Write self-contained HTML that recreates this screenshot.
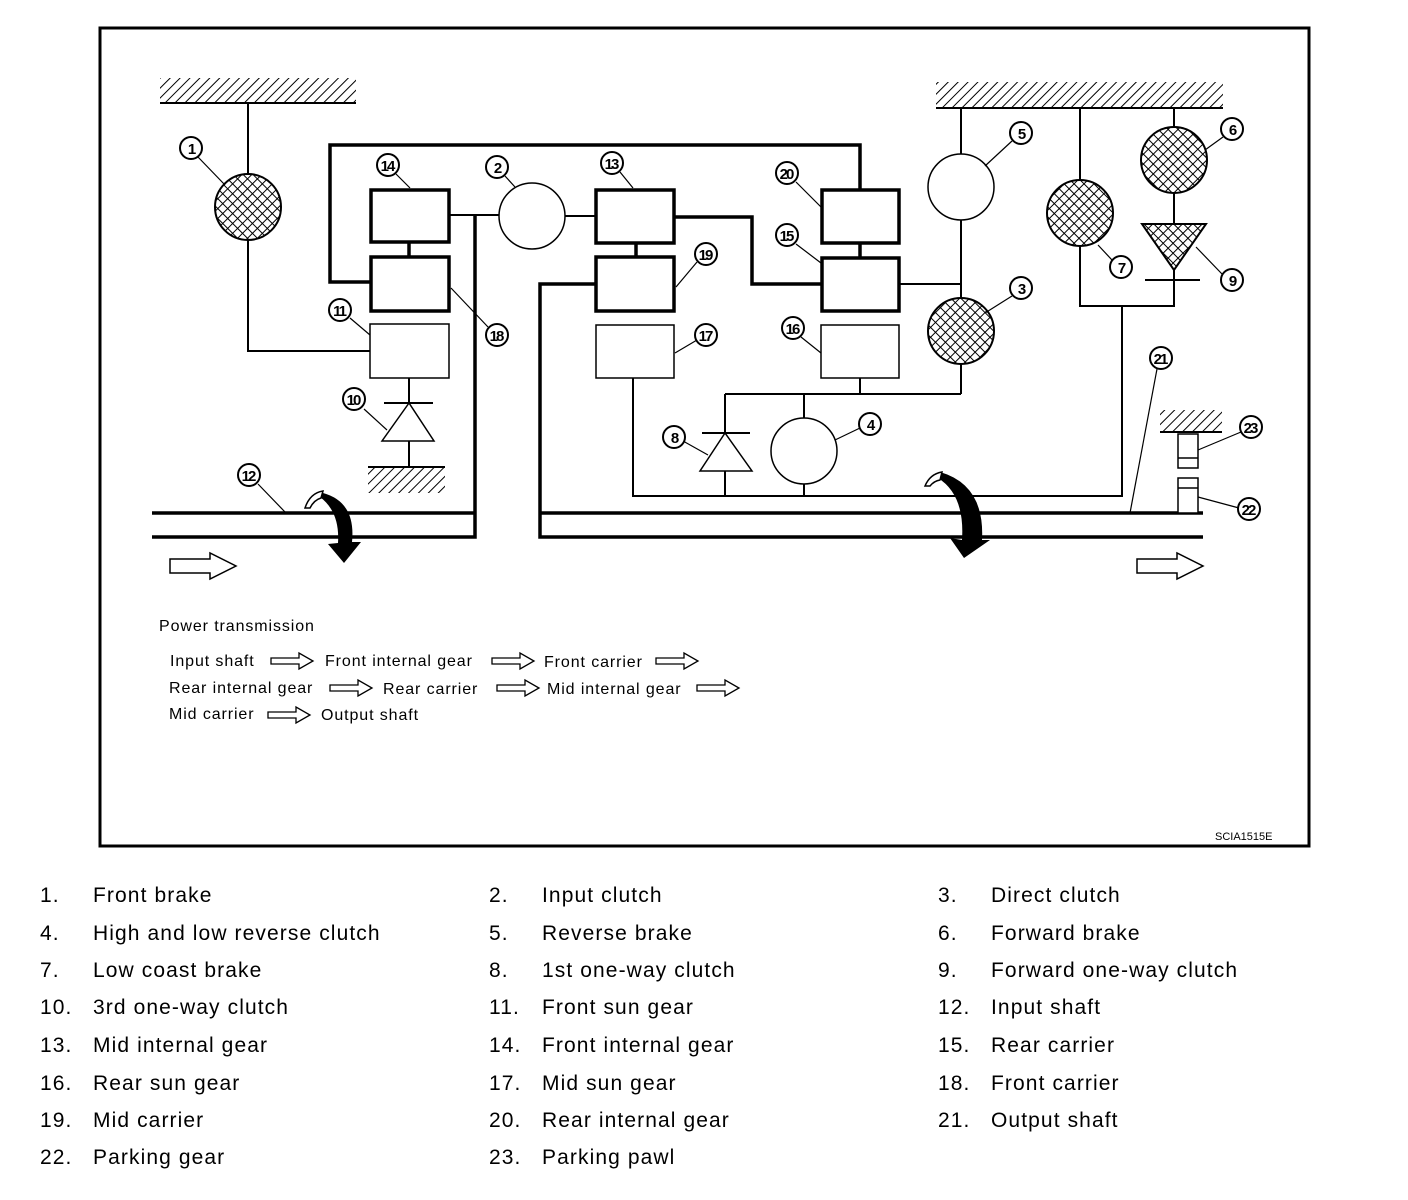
<!DOCTYPE html>
<html><head><meta charset="utf-8"><style>
html,body{margin:0;padding:0;background:#fff;}
svg{display:block;}
.t{font-family:"Liberation Sans",Arial,sans-serif;}
</style></head><body>
<svg width="1408" height="1200" viewBox="0 0 1408 1200" xmlns="http://www.w3.org/2000/svg">
<defs>
<pattern id="hat" patternUnits="userSpaceOnUse" width="7" height="7" patternTransform="rotate(45)">
<rect width="7" height="7" fill="#fff"/><line x1="0" y1="0" x2="0" y2="7" stroke="#000" stroke-width="2"/></pattern>
<pattern id="xh" patternUnits="userSpaceOnUse" width="7" height="7" patternTransform="rotate(45)">
<rect width="7" height="7" fill="#fff"/><line x1="0" y1="0" x2="0" y2="7" stroke="#000" stroke-width="2"/><line x1="0" y1="0" x2="7" y2="0" stroke="#000" stroke-width="2"/></pattern>
</defs>
<rect x="0" y="0" width="1408" height="1200" fill="#fff"/>
<rect x="100" y="28" width="1209" height="818" fill="none" stroke="#000" stroke-width="3"/>

<rect x="160" y="78" width="196" height="25" fill="url(#hat)"/><line x1="160" y1="103" x2="356" y2="103" stroke="#000" stroke-width="2"/>
<rect x="936" y="82" width="287" height="26" fill="url(#hat)"/><line x1="936" y1="108" x2="1223" y2="108" stroke="#000" stroke-width="2"/>
<rect x="368" y="468" width="77" height="25" fill="url(#hat)"/><line x1="368" y1="467" x2="445" y2="467" stroke="#000" stroke-width="2"/>
<rect x="1160" y="410" width="62" height="22" fill="url(#hat)"/><line x1="1160" y1="432" x2="1222" y2="432" stroke="#000" stroke-width="2"/>

<g fill="none" stroke="#000" stroke-width="2">
<polyline points="248,103 248,351 370,351"/>
<line x1="409" y1="378" x2="409" y2="467"/>
<line x1="384" y1="403" x2="433" y2="403"/>
<line x1="449" y1="215" x2="499" y2="215"/>
<line x1="565" y1="216" x2="595" y2="216"/>
<line x1="961" y1="108" x2="961" y2="394"/>
<polyline points="633,378 633,496 1122,496 1122,306"/>
<polyline points="860,378 860,394"/>
<polyline points="725,394 961,394"/>
<line x1="725" y1="394" x2="725" y2="496"/>
<line x1="702" y1="433" x2="750" y2="433"/>
<line x1="804" y1="394" x2="804" y2="496"/>
<polyline points="1080,108 1080,306 1174,306 1174,108"/>
<line x1="1145" y1="280" x2="1200" y2="280"/>
<line x1="899" y1="284" x2="961" y2="284"/>
</g>
<g fill="none" stroke="#000" stroke-width="3.5">
<polyline points="370,282 330,282 330,145 860,145 860,189"/>
<line x1="409" y1="242" x2="409" y2="256"/>
<line x1="636" y1="243" x2="636" y2="256"/>
<line x1="860" y1="243" x2="860" y2="257"/>
<polyline points="674,217 752,217 752,284 821,284"/>
<polyline points="475,215 475,537 152,537"/>
<line x1="152" y1="513" x2="475" y2="513"/>
<polyline points="595,284 540,284 540,537 1203,537"/>
<line x1="540" y1="513" x2="1203" y2="513"/>
<rect x="371" y="190" width="78" height="52"/>
<rect x="371" y="257" width="78" height="54"/>
<rect x="596" y="190" width="78" height="53"/>
<rect x="596" y="257" width="78" height="54"/>
<rect x="822" y="190" width="77" height="53"/>
<rect x="822" y="258" width="77" height="53"/>
</g>
<g fill="#fff" stroke="#000" stroke-width="1.5">
<rect x="370" y="324" width="79" height="54"/>
<rect x="596" y="325" width="78" height="53"/>
<rect x="821" y="325" width="78" height="53"/>
<polygon points="409,403 382,441 434,441"/>
<polygon points="725,433 700,471 752,471"/>
<circle cx="532" cy="216" r="33"/>
<circle cx="961" cy="187" r="33"/>
<circle cx="804" cy="451" r="33"/>
<rect x="1178" y="434" width="20" height="34"/><line x1="1178" y1="458" x2="1198" y2="458"/>
<rect x="1178" y="478" width="20" height="35"/><line x1="1178" y1="488" x2="1198" y2="488"/>
</g>
<g stroke="#000" stroke-width="2" fill="url(#xh)">
<circle cx="248" cy="207" r="33"/>
<circle cx="961" cy="331" r="33"/>
<circle cx="1080" cy="213" r="33"/>
<circle cx="1174" cy="160" r="33"/>
<polygon points="1142,224 1206,224 1174,270"/>
</g>

<g stroke="#000" stroke-width="1.2" fill="none">
<line x1="198" y1="157" x2="225" y2="185"/>
<line x1="396" y1="174" x2="410" y2="188"/>
<line x1="505" y1="176" x2="515" y2="187"/>
<line x1="350" y1="318" x2="370" y2="335"/>
<line x1="451" y1="288" x2="488" y2="327"/>
<line x1="364" y1="409" x2="387" y2="430"/>
<line x1="258" y1="484" x2="285" y2="512"/>
<line x1="620" y1="172" x2="633" y2="188"/>
<line x1="697" y1="262" x2="676" y2="287"/>
<line x1="796" y1="182" x2="821" y2="207"/>
<line x1="796" y1="244" x2="821" y2="263"/>
<line x1="697" y1="340" x2="675" y2="353"/>
<line x1="801" y1="337" x2="821" y2="353"/>
<line x1="683" y1="441" x2="708" y2="455"/>
<line x1="860" y1="428" x2="835" y2="440"/>
<line x1="1012" y1="141" x2="985" y2="166"/>
<line x1="1223" y1="137" x2="1205" y2="150"/>
<line x1="1112" y1="260" x2="1098" y2="245"/>
<line x1="1222" y1="274" x2="1196" y2="247"/>
<line x1="1012" y1="296" x2="985" y2="313"/>
<line x1="1157" y1="369" x2="1130" y2="513"/>
<line x1="1241" y1="432" x2="1198" y2="450"/>
<line x1="1239" y1="508" x2="1198" y2="497"/>
</g>
<g class="t" font-size="15" font-weight="bold" text-anchor="middle">
<g fill="#fff" stroke="#000" stroke-width="2">
<circle cx="191" cy="148" r="11"/><circle cx="388" cy="165" r="11"/><circle cx="497" cy="167" r="11"/>
<circle cx="340" cy="310" r="11"/><circle cx="497" cy="335" r="11"/><circle cx="354" cy="399" r="11"/>
<circle cx="249" cy="475" r="11"/><circle cx="612" cy="163" r="11"/><circle cx="706" cy="254" r="11"/>
<circle cx="787" cy="173" r="11"/><circle cx="787" cy="235" r="11"/><circle cx="706" cy="335" r="11"/>
<circle cx="793" cy="328" r="11"/><circle cx="674" cy="437" r="11"/><circle cx="870" cy="424" r="11"/>
<circle cx="1021" cy="133" r="11"/><circle cx="1232" cy="129" r="11"/><circle cx="1121" cy="267" r="11"/>
<circle cx="1232" cy="280" r="11"/><circle cx="1021" cy="288" r="11"/><circle cx="1161" cy="358" r="11"/>
<circle cx="1251" cy="427" r="11"/><circle cx="1249" cy="509" r="11"/>
</g>
<g fill="#000" letter-spacing="-2">
<text x="191" y="154">1</text><text x="387" y="171">14</text><text x="497" y="173">2</text>
<text x="339" y="316">11</text><text x="496" y="341">18</text><text x="353" y="405">10</text>
<text x="248" y="481">12</text><text x="611" y="169">13</text><text x="705" y="260">19</text>
<text x="786" y="179">20</text><text x="786" y="241">15</text><text x="705" y="341">17</text>
<text x="792" y="334">16</text><text x="674" y="443">8</text><text x="870" y="430">4</text>
<text x="1021" y="139">5</text><text x="1232" y="135">6</text><text x="1121" y="273">7</text>
<text x="1232" y="286">9</text><text x="1021" y="294">3</text><text x="1160" y="364">21</text>
<text x="1250" y="433">23</text><text x="1248" y="515">22</text>
</g></g>

<g fill="#000">
<path d="M323 493 Q356 502 352 542 L361 542 L344 563 L328 544 L338 543 Q340 512 320 497 Z"/>
<path d="M940 472 Q985 485 982 540 L990 540 L964 558 L950 538 L962 540 Q965 495 938 478 Z"/>
</g>
<g fill="#fff" stroke="#000" stroke-width="1.5">
<path d="M305 508 Q310 493 323 491 L321 498 Q314 500 310 508 Z"/>
<path d="M925 486 Q930 474 942 472 L940 480 Q934 481 930 486 Z"/>
<path d="M170 559 h40 v-6 l26 13 l-26 13 v-6 h-40 z"/>
<path d="M1137 559 h40 v-6 l26 13 l-26 13 v-6 h-40 z"/>
</g>
<g fill="#fff" stroke="#000" stroke-width="1.3">
<path d="M271 658 h28 v-5 l14 8 l-14 8 v-5 h-28 z"/>
<path d="M492 658 h28 v-5 l14 8 l-14 8 v-5 h-28 z"/>
<path d="M656 658 h28 v-5 l14 8 l-14 8 v-5 h-28 z"/>
<path d="M330 685 h28 v-5 l14 8 l-14 8 v-5 h-28 z"/>
<path d="M497 685 h28 v-5 l14 8 l-14 8 v-5 h-28 z"/>
<path d="M697 685 h28 v-5 l14 8 l-14 8 v-5 h-28 z"/>
<path d="M268 712 h28 v-5 l14 8 l-14 8 v-5 h-28 z"/>
</g>
<g class="t" font-size="16" fill="#000" letter-spacing="0.9">
<text x="159" y="631">Power transmission</text>
<text x="170" y="666">Input shaft</text><text x="325" y="666">Front internal gear</text><text x="544" y="667">Front carrier</text>
<text x="169" y="693">Rear internal gear</text><text x="383" y="694">Rear carrier</text><text x="547" y="694">Mid internal gear</text>
<text x="169" y="719">Mid carrier</text><text x="321" y="720">Output shaft</text>
<text x="1215" y="840" font-size="11" letter-spacing="0">SCIA1515E</text>
</g>
<g class="t" font-size="21" fill="#000" letter-spacing="1.1">
<text x="40" y="902">1.</text><text x="93" y="902">Front brake</text>
<text x="489" y="902">2.</text><text x="542" y="902">Input clutch</text>
<text x="938" y="902">3.</text><text x="991" y="902">Direct clutch</text>
<text x="40" y="940">4.</text><text x="93" y="940">High and low reverse clutch</text>
<text x="489" y="940">5.</text><text x="542" y="940">Reverse brake</text>
<text x="938" y="940">6.</text><text x="991" y="940">Forward brake</text>
<text x="40" y="977">7.</text><text x="93" y="977">Low coast brake</text>
<text x="489" y="977">8.</text><text x="542" y="977">1st one-way clutch</text>
<text x="938" y="977">9.</text><text x="991" y="977">Forward one-way clutch</text>
<text x="40" y="1014">10.</text><text x="93" y="1014">3rd one-way clutch</text>
<text x="489" y="1014">11.</text><text x="542" y="1014">Front sun gear</text>
<text x="938" y="1014">12.</text><text x="991" y="1014">Input shaft</text>
<text x="40" y="1052">13.</text><text x="93" y="1052">Mid internal gear</text>
<text x="489" y="1052">14.</text><text x="542" y="1052">Front internal gear</text>
<text x="938" y="1052">15.</text><text x="991" y="1052">Rear carrier</text>
<text x="40" y="1090">16.</text><text x="93" y="1090">Rear sun gear</text>
<text x="489" y="1090">17.</text><text x="542" y="1090">Mid sun gear</text>
<text x="938" y="1090">18.</text><text x="991" y="1090">Front carrier</text>
<text x="40" y="1127">19.</text><text x="93" y="1127">Mid carrier</text>
<text x="489" y="1127">20.</text><text x="542" y="1127">Rear internal gear</text>
<text x="938" y="1127">21.</text><text x="991" y="1127">Output shaft</text>
<text x="40" y="1164">22.</text><text x="93" y="1164">Parking gear</text>
<text x="489" y="1164">23.</text><text x="542" y="1164">Parking pawl</text>
</g>
</svg>
</body></html>
